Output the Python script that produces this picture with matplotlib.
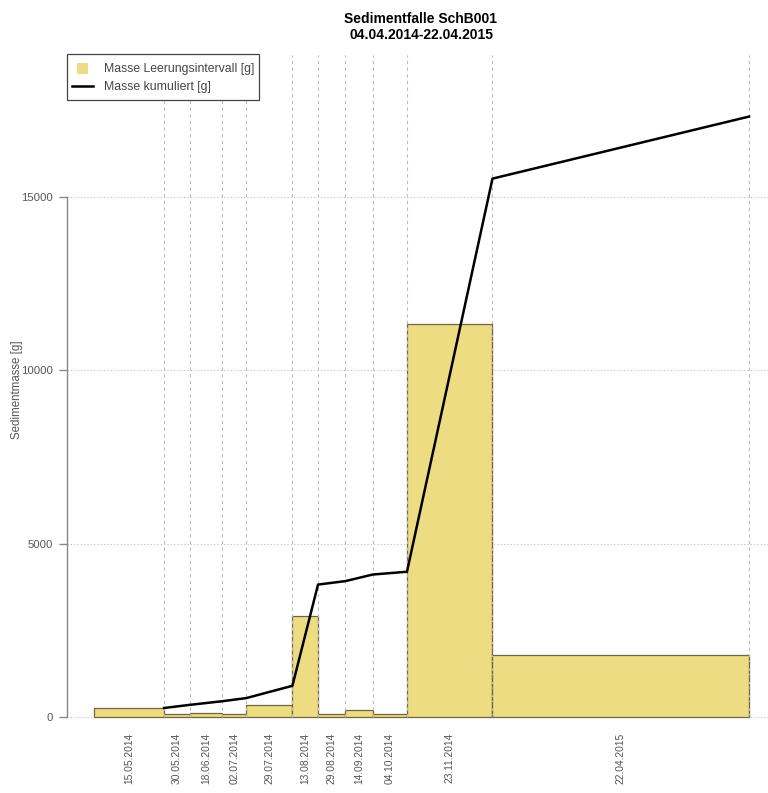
import matplotlib
matplotlib.use("Agg")
import matplotlib.pyplot as plt
from matplotlib.patches import Rectangle
from matplotlib.lines import Line2D
import numpy as np
import pandas as pd

# Emptying dates of the sediment trap and the mass collected per interval
dates = ["04.04.2014", "15.05.2014", "30.05.2014", "18.06.2014", "02.07.2014",
         "29.07.2014", "13.08.2014", "29.08.2014", "14.09.2014", "04.10.2014",
         "23.11.2014", "22.04.2015"]
interval_mass = [260, 90, 105, 90, 355, 2920, 100, 190, 80, 11340, 1790]
y_ticks = [0, 5000, 10000, 15000]

title = "Sedimentfalle SchB001\n04.04.2014-22.04.2015"
y_label = "Sedimentmasse [g]"
legend_labels = ["Masse Leerungsintervall [g]", "Masse kumuliert [g]"]

bar_color = "#EEDC82"
edge_color = "#6e6640"
grid_color = "#bdbdbd"
text_color = "#555555"

plt.rcParams["font.family"] = ["Liberation Sans", "DejaVu Sans"]

t = pd.to_datetime(dates, format="%d.%m.%Y")
days = np.array((t - t[0]).days, dtype=float)
starts, ends = days[:-1], days[1:]
widths = ends - starts
mids = (starts + ends) / 2
cumulative = np.cumsum(interval_mass)

W, H = 768, 793
fig = plt.figure(figsize=(W / 100, H / 100), dpi=100)
ax_l, ax_r, ax_t, ax_b = 67, 768, 55, 727
ax = fig.add_axes([ax_l / W, 1 - ax_b / H, (ax_r - ax_l) / W, (ax_b - ax_t) / H])

px_per_day = (749 - 94) / days[-1]
px_per_unit = (717 - 197) / 15000.0
x0 = -(94 - ax_l) / px_per_day
x1 = days[-1] + (ax_r - 749) / px_per_day
y_top = (717 - ax_t) / px_per_unit
y_bot = -(ax_b - 717) / px_per_unit
ax.set_xlim(x0, x1)
ax.set_ylim(y_bot, y_top)

# horizontal dotted grid
for yv in y_ticks:
    ax.plot([x0, x1], [yv, yv], color=grid_color, lw=0.8, ls=(0, (1, 2)), zorder=1)

# interval bars
ax.bar(starts, interval_mass, width=widths, align="edge", color=bar_color,
       edgecolor=edge_color, linewidth=0.9, zorder=2)

# dashed lines at each emptying date
ax.vlines(ends, 0, y_top, colors=grid_color, linestyles=(0, (3, 3)), lw=0.8, zorder=3)
ax.vlines(ends[-2:], 0, interval_mass[-2:], colors="#6e6640", linestyles=(0, (2, 2)), lw=0.8, zorder=3)

# cumulative mass
ax.plot(ends, cumulative, color="black", lw=1.8, zorder=4)

# axes styling
for s in ["top", "right", "bottom"]:
    ax.spines[s].set_visible(False)
ax.spines["left"].set_bounds(0, 15000)
ax.spines["left"].set_color("#888888")
ax.spines["left"].set_linewidth(1.0)
ax.set_yticks(y_ticks)
ax.set_yticklabels([str(v) for v in y_ticks])
ax.tick_params(axis="y", colors="#888888", labelcolor=text_color, length=6, width=1.0,
               pad=4, labelsize=8.2)
ax.set_xticks(mids)
ax.set_xticklabels(dates[1:], rotation=90, va="top", ha="center")
ax.tick_params(axis="x", length=0, pad=4, labelsize=7.4, labelcolor=text_color)

fig.text(17 / W, 1 - 390 / H, y_label, rotation=90, ha="center", va="center",
         fontsize=8.3, color=text_color)
fig.text((67 + 775) / 2 / W, 1 - 27 / H, title, ha="center", va="center",
         fontsize=10, fontweight="bold", linespacing=1.2)

# legend box
leg_ax = fig.add_axes([0, 0, 1, 1], facecolor="none")
leg_ax.set_xlim(0, W)
leg_ax.set_ylim(H, 0)
leg_ax.axis("off")
leg_ax.add_patch(Rectangle((67, 54), 192, 46, facecolor="white", edgecolor="#444444",
                           lw=0.9, zorder=5))
leg_ax.add_patch(Rectangle((77, 63), 11, 11, facecolor=bar_color, edgecolor="none", zorder=6))
leg_ax.add_line(Line2D([72, 93], [86, 86], color="black", lw=1.8, zorder=6))
leg_ax.text(104, 69, legend_labels[0], va="center", ha="left", fontsize=8.8,
            color="#444444", zorder=6)
leg_ax.text(104, 87, legend_labels[1], va="center", ha="left", fontsize=8.8,
            color="#444444", zorder=6)

fig.savefig("out.png", dpi=100)
